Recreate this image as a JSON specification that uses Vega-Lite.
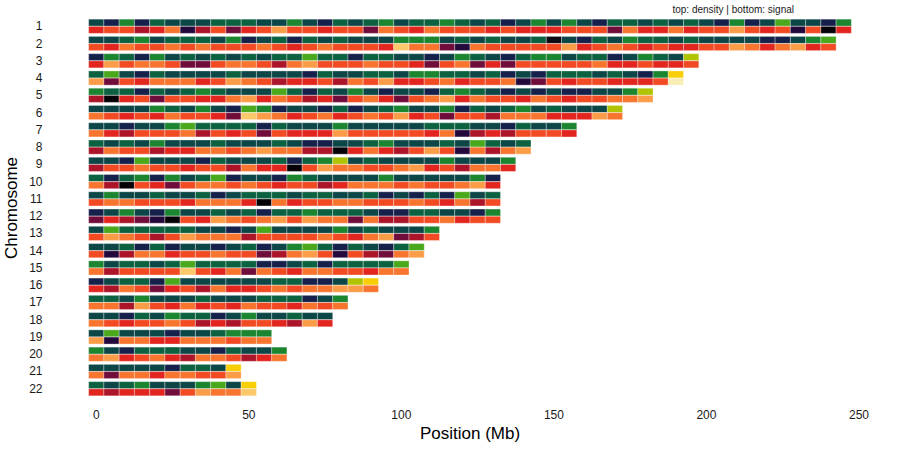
{
  "$schema": "https://vega.github.io/schema/vega-lite/v6.json",
  "width": 839,
  "height": 397,
  "autosize": "none",
  "padding": {"left": 50, "top": 9, "right": 11, "bottom": 44},
  "title": {
    "text": "top: density | bottom: signal",
    "anchor": "end",
    "frame": "group",
    "fontSize": 10,
    "fontWeight": "normal",
    "color": "#1a1a1a",
    "offset": 0,
    "dx": -95,
    "dy": 6
  },
  "data": {
    "values": [
      {"chr":1,"mb":0,"den":2,"sig":4},{"chr":1,"mb":5,"den":1,"sig":5},{"chr":1,"mb":10,"den":4,"sig":5},{"chr":1,"mb":15,"den":1,"sig":3},{"chr":1,"mb":20,"den":3,"sig":4},{"chr":1,"mb":25,"den":2,"sig":6},{"chr":1,"mb":30,"den":2,"sig":1},{"chr":1,"mb":35,"den":2,"sig":3},{"chr":1,"mb":40,"den":3,"sig":5},{"chr":1,"mb":45,"den":3,"sig":2},
      {"chr":1,"mb":50,"den":3,"sig":4},{"chr":1,"mb":55,"den":2,"sig":5},{"chr":1,"mb":60,"den":2,"sig":7},{"chr":1,"mb":65,"den":4,"sig":5},{"chr":1,"mb":70,"den":2,"sig":5},{"chr":1,"mb":75,"den":1,"sig":4},{"chr":1,"mb":80,"den":3,"sig":5},{"chr":1,"mb":85,"den":2,"sig":5},{"chr":1,"mb":90,"den":3,"sig":2},{"chr":1,"mb":95,"den":4,"sig":6},
      {"chr":1,"mb":100,"den":2,"sig":5},{"chr":1,"mb":105,"den":3,"sig":4},{"chr":1,"mb":110,"den":3,"sig":6},{"chr":1,"mb":115,"den":4,"sig":5},{"chr":1,"mb":120,"den":3,"sig":5},{"chr":1,"mb":125,"den":2,"sig":5},{"chr":1,"mb":130,"den":3,"sig":4},{"chr":1,"mb":135,"den":1,"sig":5},{"chr":1,"mb":140,"den":2,"sig":4},{"chr":1,"mb":145,"den":4,"sig":4},
      {"chr":1,"mb":150,"den":2,"sig":4},{"chr":1,"mb":155,"den":4,"sig":5},{"chr":1,"mb":160,"den":2,"sig":5},{"chr":1,"mb":165,"den":1,"sig":5},{"chr":1,"mb":170,"den":3,"sig":2},{"chr":1,"mb":175,"den":3,"sig":6},{"chr":1,"mb":180,"den":2,"sig":4},{"chr":1,"mb":185,"den":3,"sig":4},{"chr":1,"mb":190,"den":2,"sig":6},{"chr":1,"mb":195,"den":3,"sig":4},
      {"chr":1,"mb":200,"den":2,"sig":5},{"chr":1,"mb":205,"den":1,"sig":5},{"chr":1,"mb":210,"den":4,"sig":7},{"chr":1,"mb":215,"den":1,"sig":5},{"chr":1,"mb":220,"den":2,"sig":4},{"chr":1,"mb":225,"den":5,"sig":5},{"chr":1,"mb":230,"den":2,"sig":1},{"chr":1,"mb":235,"den":2,"sig":5},{"chr":1,"mb":240,"den":1,"sig":0},{"chr":1,"mb":245,"den":4,"sig":4},

      {"chr":2,"mb":0,"den":2,"sig":5},{"chr":2,"mb":5,"den":2,"sig":4},{"chr":2,"mb":10,"den":3,"sig":6},{"chr":2,"mb":15,"den":4,"sig":5},{"chr":2,"mb":20,"den":2,"sig":5},{"chr":2,"mb":25,"den":3,"sig":6},{"chr":2,"mb":30,"den":3,"sig":5},{"chr":2,"mb":35,"den":3,"sig":6},{"chr":2,"mb":40,"den":2,"sig":5},{"chr":2,"mb":45,"den":4,"sig":5},
      {"chr":2,"mb":50,"den":1,"sig":5},{"chr":2,"mb":55,"den":2,"sig":6},{"chr":2,"mb":60,"den":3,"sig":5},{"chr":2,"mb":65,"den":1,"sig":4},{"chr":2,"mb":70,"den":3,"sig":5},{"chr":2,"mb":75,"den":2,"sig":6},{"chr":2,"mb":80,"den":3,"sig":5},{"chr":2,"mb":85,"den":2,"sig":5},{"chr":2,"mb":90,"den":2,"sig":5},{"chr":2,"mb":95,"den":2,"sig":4},
      {"chr":2,"mb":100,"den":4,"sig":8},{"chr":2,"mb":105,"den":4,"sig":6},{"chr":2,"mb":110,"den":4,"sig":6},{"chr":2,"mb":115,"den":2,"sig":2},{"chr":2,"mb":120,"den":3,"sig":1},{"chr":2,"mb":125,"den":2,"sig":6},{"chr":2,"mb":130,"den":3,"sig":5},{"chr":2,"mb":135,"den":2,"sig":5},{"chr":2,"mb":140,"den":2,"sig":5},{"chr":2,"mb":145,"den":3,"sig":5},
      {"chr":2,"mb":150,"den":0,"sig":5},{"chr":2,"mb":155,"den":2,"sig":7},{"chr":2,"mb":160,"den":1,"sig":4},{"chr":2,"mb":165,"den":3,"sig":5},{"chr":2,"mb":170,"den":2,"sig":6},{"chr":2,"mb":175,"den":4,"sig":5},{"chr":2,"mb":180,"den":3,"sig":4},{"chr":2,"mb":185,"den":3,"sig":5},{"chr":2,"mb":190,"den":2,"sig":4},{"chr":2,"mb":195,"den":3,"sig":4},
      {"chr":2,"mb":200,"den":2,"sig":5},{"chr":2,"mb":205,"den":2,"sig":5},{"chr":2,"mb":210,"den":2,"sig":7},{"chr":2,"mb":215,"den":2,"sig":6},{"chr":2,"mb":220,"den":1,"sig":4},{"chr":2,"mb":225,"den":1,"sig":6},{"chr":2,"mb":230,"den":2,"sig":7},{"chr":2,"mb":235,"den":4,"sig":4},{"chr":2,"mb":240,"den":5,"sig":5},

      {"chr":3,"mb":0,"den":1,"sig":4},{"chr":3,"mb":5,"den":4,"sig":7},{"chr":3,"mb":10,"den":3,"sig":5},{"chr":3,"mb":15,"den":1,"sig":6},{"chr":3,"mb":20,"den":4,"sig":6},{"chr":3,"mb":25,"den":2,"sig":5},{"chr":3,"mb":30,"den":3,"sig":2},{"chr":3,"mb":35,"den":2,"sig":2},{"chr":3,"mb":40,"den":3,"sig":5},{"chr":3,"mb":45,"den":2,"sig":6},
      {"chr":3,"mb":50,"den":3,"sig":6},{"chr":3,"mb":55,"den":2,"sig":5},{"chr":3,"mb":60,"den":3,"sig":3},{"chr":3,"mb":65,"den":3,"sig":6},{"chr":3,"mb":70,"den":5,"sig":7},{"chr":3,"mb":75,"den":3,"sig":5},{"chr":3,"mb":80,"den":3,"sig":5},{"chr":3,"mb":85,"den":1,"sig":5},{"chr":3,"mb":90,"den":3,"sig":6},{"chr":3,"mb":95,"den":3,"sig":5},
      {"chr":3,"mb":100,"den":2,"sig":5},{"chr":3,"mb":105,"den":2,"sig":4},{"chr":3,"mb":110,"den":1,"sig":2},{"chr":3,"mb":115,"den":2,"sig":5},{"chr":3,"mb":120,"den":4,"sig":6},{"chr":3,"mb":125,"den":3,"sig":2},{"chr":3,"mb":130,"den":2,"sig":4},{"chr":3,"mb":135,"den":1,"sig":2},{"chr":3,"mb":140,"den":3,"sig":5},{"chr":3,"mb":145,"den":4,"sig":5},
      {"chr":3,"mb":150,"den":4,"sig":5},{"chr":3,"mb":155,"den":2,"sig":5},{"chr":3,"mb":160,"den":3,"sig":5},{"chr":3,"mb":165,"den":3,"sig":6},{"chr":3,"mb":170,"den":1,"sig":4},{"chr":3,"mb":175,"den":2,"sig":4},{"chr":3,"mb":180,"den":4,"sig":5},{"chr":3,"mb":185,"den":3,"sig":4},{"chr":3,"mb":190,"den":2,"sig":4},{"chr":3,"mb":195,"den":6,"sig":5},

      {"chr":4,"mb":0,"den":3,"sig":7},{"chr":4,"mb":5,"den":5,"sig":2},{"chr":4,"mb":10,"den":2,"sig":5},{"chr":4,"mb":15,"den":1,"sig":4},{"chr":4,"mb":20,"den":3,"sig":6},{"chr":4,"mb":25,"den":2,"sig":6},{"chr":4,"mb":30,"den":2,"sig":6},{"chr":4,"mb":35,"den":2,"sig":4},{"chr":4,"mb":40,"den":2,"sig":5},{"chr":4,"mb":45,"den":3,"sig":7},
      {"chr":4,"mb":50,"den":2,"sig":6},{"chr":4,"mb":55,"den":2,"sig":5},{"chr":4,"mb":60,"den":2,"sig":3},{"chr":4,"mb":65,"den":2,"sig":4},{"chr":4,"mb":70,"den":1,"sig":4},{"chr":4,"mb":75,"den":3,"sig":5},{"chr":4,"mb":80,"den":2,"sig":3},{"chr":4,"mb":85,"den":2,"sig":6},{"chr":4,"mb":90,"den":3,"sig":5},{"chr":4,"mb":95,"den":3,"sig":7},
      {"chr":4,"mb":100,"den":2,"sig":4},{"chr":4,"mb":105,"den":4,"sig":4},{"chr":4,"mb":110,"den":4,"sig":5},{"chr":4,"mb":115,"den":3,"sig":6},{"chr":4,"mb":120,"den":3,"sig":4},{"chr":4,"mb":125,"den":2,"sig":5},{"chr":4,"mb":130,"den":3,"sig":5},{"chr":4,"mb":135,"den":1,"sig":6},{"chr":4,"mb":140,"den":2,"sig":1},{"chr":4,"mb":145,"den":1,"sig":2},
      {"chr":4,"mb":150,"den":3,"sig":5},{"chr":4,"mb":155,"den":3,"sig":4},{"chr":4,"mb":160,"den":3,"sig":5},{"chr":4,"mb":165,"den":2,"sig":5},{"chr":4,"mb":170,"den":3,"sig":4},{"chr":4,"mb":175,"den":2,"sig":4},{"chr":4,"mb":180,"den":1,"sig":4},{"chr":4,"mb":185,"den":4,"sig":5},{"chr":4,"mb":190,"den":7,"sig":9},

      {"chr":5,"mb":0,"den":4,"sig":3},{"chr":5,"mb":5,"den":3,"sig":0},{"chr":5,"mb":10,"den":3,"sig":4},{"chr":5,"mb":15,"den":1,"sig":5},{"chr":5,"mb":20,"den":3,"sig":2},{"chr":5,"mb":25,"den":2,"sig":5},{"chr":5,"mb":30,"den":3,"sig":5},{"chr":5,"mb":35,"den":4,"sig":4},{"chr":5,"mb":40,"den":3,"sig":4},{"chr":5,"mb":45,"den":2,"sig":6},
      {"chr":5,"mb":50,"den":2,"sig":7},{"chr":5,"mb":55,"den":2,"sig":4},{"chr":5,"mb":60,"den":5,"sig":6},{"chr":5,"mb":65,"den":3,"sig":5},{"chr":5,"mb":70,"den":1,"sig":3},{"chr":5,"mb":75,"den":3,"sig":4},{"chr":5,"mb":80,"den":2,"sig":2},{"chr":5,"mb":85,"den":4,"sig":5},{"chr":5,"mb":90,"den":2,"sig":6},{"chr":5,"mb":95,"den":1,"sig":4},
      {"chr":5,"mb":100,"den":2,"sig":2},{"chr":5,"mb":105,"den":2,"sig":5},{"chr":5,"mb":110,"den":1,"sig":6},{"chr":5,"mb":115,"den":3,"sig":7},{"chr":5,"mb":120,"den":4,"sig":4},{"chr":5,"mb":125,"den":3,"sig":6},{"chr":5,"mb":130,"den":2,"sig":5},{"chr":5,"mb":135,"den":1,"sig":5},{"chr":5,"mb":140,"den":2,"sig":4},{"chr":5,"mb":145,"den":1,"sig":6},
      {"chr":5,"mb":150,"den":2,"sig":5},{"chr":5,"mb":155,"den":1,"sig":4},{"chr":5,"mb":160,"den":1,"sig":5},{"chr":5,"mb":165,"den":2,"sig":5},{"chr":5,"mb":170,"den":2,"sig":6},{"chr":5,"mb":175,"den":4,"sig":6},{"chr":5,"mb":180,"den":6,"sig":7},

      {"chr":6,"mb":0,"den":2,"sig":6},{"chr":6,"mb":5,"den":2,"sig":5},{"chr":6,"mb":10,"den":2,"sig":4},{"chr":6,"mb":15,"den":2,"sig":5},{"chr":6,"mb":20,"den":4,"sig":4},{"chr":6,"mb":25,"den":3,"sig":6},{"chr":6,"mb":30,"den":2,"sig":5},{"chr":6,"mb":35,"den":4,"sig":5},{"chr":6,"mb":40,"den":2,"sig":4},{"chr":6,"mb":45,"den":1,"sig":2},
      {"chr":6,"mb":50,"den":5,"sig":8},{"chr":6,"mb":55,"den":4,"sig":7},{"chr":6,"mb":60,"den":1,"sig":6},{"chr":6,"mb":65,"den":2,"sig":4},{"chr":6,"mb":70,"den":2,"sig":5},{"chr":6,"mb":75,"den":1,"sig":6},{"chr":6,"mb":80,"den":3,"sig":4},{"chr":6,"mb":85,"den":1,"sig":5},{"chr":6,"mb":90,"den":2,"sig":6},{"chr":6,"mb":95,"den":3,"sig":5},
      {"chr":6,"mb":100,"den":4,"sig":7},{"chr":6,"mb":105,"den":2,"sig":4},{"chr":6,"mb":110,"den":2,"sig":5},{"chr":6,"mb":115,"den":4,"sig":2},{"chr":6,"mb":120,"den":1,"sig":5},{"chr":6,"mb":125,"den":3,"sig":5},{"chr":6,"mb":130,"den":2,"sig":3},{"chr":6,"mb":135,"den":3,"sig":6},{"chr":6,"mb":140,"den":4,"sig":6},{"chr":6,"mb":145,"den":2,"sig":6},
      {"chr":6,"mb":150,"den":3,"sig":4},{"chr":6,"mb":155,"den":2,"sig":4},{"chr":6,"mb":160,"den":2,"sig":4},{"chr":6,"mb":165,"den":2,"sig":7},{"chr":6,"mb":170,"den":6,"sig":6},

      {"chr":7,"mb":0,"den":2,"sig":6},{"chr":7,"mb":5,"den":2,"sig":4},{"chr":7,"mb":10,"den":1,"sig":3},{"chr":7,"mb":15,"den":2,"sig":5},{"chr":7,"mb":20,"den":2,"sig":5},{"chr":7,"mb":25,"den":4,"sig":5},{"chr":7,"mb":30,"den":5,"sig":6},{"chr":7,"mb":35,"den":3,"sig":3},{"chr":7,"mb":40,"den":3,"sig":5},{"chr":7,"mb":45,"den":3,"sig":4},
      {"chr":7,"mb":50,"den":3,"sig":5},{"chr":7,"mb":55,"den":1,"sig":2},{"chr":7,"mb":60,"den":3,"sig":5},{"chr":7,"mb":65,"den":2,"sig":4},{"chr":7,"mb":70,"den":2,"sig":4},{"chr":7,"mb":75,"den":2,"sig":4},{"chr":7,"mb":80,"den":4,"sig":7},{"chr":7,"mb":85,"den":2,"sig":5},{"chr":7,"mb":90,"den":2,"sig":5},{"chr":7,"mb":95,"den":2,"sig":5},
      {"chr":7,"mb":100,"den":2,"sig":5},{"chr":7,"mb":105,"den":2,"sig":5},{"chr":7,"mb":110,"den":3,"sig":4},{"chr":7,"mb":115,"den":3,"sig":6},{"chr":7,"mb":120,"den":3,"sig":1},{"chr":7,"mb":125,"den":2,"sig":3},{"chr":7,"mb":130,"den":2,"sig":4},{"chr":7,"mb":135,"den":1,"sig":3},{"chr":7,"mb":140,"den":3,"sig":5},{"chr":7,"mb":145,"den":2,"sig":5},
      {"chr":7,"mb":150,"den":2,"sig":5},{"chr":7,"mb":155,"den":4,"sig":4},

      {"chr":8,"mb":0,"den":3,"sig":3},{"chr":8,"mb":5,"den":2,"sig":6},{"chr":8,"mb":10,"den":3,"sig":5},{"chr":8,"mb":15,"den":2,"sig":5},{"chr":8,"mb":20,"den":4,"sig":3},{"chr":8,"mb":25,"den":2,"sig":4},{"chr":8,"mb":30,"den":2,"sig":4},{"chr":8,"mb":35,"den":2,"sig":6},{"chr":8,"mb":40,"den":3,"sig":6},{"chr":8,"mb":45,"den":2,"sig":5},
      {"chr":8,"mb":50,"den":2,"sig":6},{"chr":8,"mb":55,"den":2,"sig":7},{"chr":8,"mb":60,"den":3,"sig":6},{"chr":8,"mb":65,"den":2,"sig":6},{"chr":8,"mb":70,"den":1,"sig":3},{"chr":8,"mb":75,"den":1,"sig":3},{"chr":8,"mb":80,"den":2,"sig":0},{"chr":8,"mb":85,"den":2,"sig":4},{"chr":8,"mb":90,"den":3,"sig":6},{"chr":8,"mb":95,"den":4,"sig":4},
      {"chr":8,"mb":100,"den":2,"sig":3},{"chr":8,"mb":105,"den":2,"sig":5},{"chr":8,"mb":110,"den":2,"sig":7},{"chr":8,"mb":115,"den":3,"sig":5},{"chr":8,"mb":120,"den":2,"sig":1},{"chr":8,"mb":125,"den":5,"sig":6},{"chr":8,"mb":130,"den":3,"sig":3},{"chr":8,"mb":135,"den":2,"sig":6},{"chr":8,"mb":140,"den":3,"sig":7},

      {"chr":9,"mb":0,"den":2,"sig":3},{"chr":9,"mb":5,"den":2,"sig":5},{"chr":9,"mb":10,"den":1,"sig":5},{"chr":9,"mb":15,"den":5,"sig":6},{"chr":9,"mb":20,"den":2,"sig":5},{"chr":9,"mb":25,"den":2,"sig":5},{"chr":9,"mb":30,"den":2,"sig":4},{"chr":9,"mb":35,"den":1,"sig":5},{"chr":9,"mb":40,"den":3,"sig":5},{"chr":9,"mb":45,"den":2,"sig":3},
      {"chr":9,"mb":50,"den":2,"sig":6},{"chr":9,"mb":55,"den":2,"sig":4},{"chr":9,"mb":60,"den":3,"sig":4},{"chr":9,"mb":65,"den":1,"sig":0},{"chr":9,"mb":70,"den":3,"sig":5},{"chr":9,"mb":75,"den":4,"sig":7},{"chr":9,"mb":80,"den":6,"sig":6},{"chr":9,"mb":85,"den":2,"sig":6},{"chr":9,"mb":90,"den":3,"sig":5},{"chr":9,"mb":95,"den":2,"sig":5},
      {"chr":9,"mb":100,"den":2,"sig":6},{"chr":9,"mb":105,"den":2,"sig":7},{"chr":9,"mb":110,"den":2,"sig":4},{"chr":9,"mb":115,"den":4,"sig":5},{"chr":9,"mb":120,"den":2,"sig":3},{"chr":9,"mb":125,"den":2,"sig":6},{"chr":9,"mb":130,"den":2,"sig":6},{"chr":9,"mb":135,"den":4,"sig":4},

      {"chr":10,"mb":0,"den":3,"sig":6},{"chr":10,"mb":5,"den":1,"sig":3},{"chr":10,"mb":10,"den":3,"sig":0},{"chr":10,"mb":15,"den":4,"sig":5},{"chr":10,"mb":20,"den":1,"sig":4},{"chr":10,"mb":25,"den":4,"sig":2},{"chr":10,"mb":30,"den":2,"sig":5},{"chr":10,"mb":35,"den":3,"sig":6},{"chr":10,"mb":40,"den":5,"sig":6},{"chr":10,"mb":45,"den":1,"sig":5},
      {"chr":10,"mb":50,"den":2,"sig":6},{"chr":10,"mb":55,"den":2,"sig":5},{"chr":10,"mb":60,"den":1,"sig":4},{"chr":10,"mb":65,"den":4,"sig":5},{"chr":10,"mb":70,"den":3,"sig":5},{"chr":10,"mb":75,"den":2,"sig":3},{"chr":10,"mb":80,"den":2,"sig":4},{"chr":10,"mb":85,"den":2,"sig":6},{"chr":10,"mb":90,"den":2,"sig":6},{"chr":10,"mb":95,"den":4,"sig":6},
      {"chr":10,"mb":100,"den":2,"sig":5},{"chr":10,"mb":105,"den":2,"sig":6},{"chr":10,"mb":110,"den":2,"sig":5},{"chr":10,"mb":115,"den":2,"sig":5},{"chr":10,"mb":120,"den":2,"sig":6},{"chr":10,"mb":125,"den":4,"sig":7},{"chr":10,"mb":130,"den":1,"sig":4},

      {"chr":11,"mb":0,"den":2,"sig":5},{"chr":11,"mb":5,"den":4,"sig":6},{"chr":11,"mb":10,"den":2,"sig":6},{"chr":11,"mb":15,"den":2,"sig":5},{"chr":11,"mb":20,"den":3,"sig":5},{"chr":11,"mb":25,"den":2,"sig":5},{"chr":11,"mb":30,"den":2,"sig":4},{"chr":11,"mb":35,"den":3,"sig":6},{"chr":11,"mb":40,"den":1,"sig":6},{"chr":11,"mb":45,"den":2,"sig":6},
      {"chr":11,"mb":50,"den":3,"sig":4},{"chr":11,"mb":55,"den":3,"sig":0},{"chr":11,"mb":60,"den":3,"sig":6},{"chr":11,"mb":65,"den":2,"sig":4},{"chr":11,"mb":70,"den":3,"sig":5},{"chr":11,"mb":75,"den":3,"sig":5},{"chr":11,"mb":80,"den":2,"sig":6},{"chr":11,"mb":85,"den":2,"sig":6},{"chr":11,"mb":90,"den":3,"sig":5},{"chr":11,"mb":95,"den":1,"sig":5},
      {"chr":11,"mb":100,"den":2,"sig":5},{"chr":11,"mb":105,"den":1,"sig":6},{"chr":11,"mb":110,"den":3,"sig":5},{"chr":11,"mb":115,"den":1,"sig":4},{"chr":11,"mb":120,"den":5,"sig":6},{"chr":11,"mb":125,"den":2,"sig":3},{"chr":11,"mb":130,"den":3,"sig":5},

      {"chr":12,"mb":0,"den":1,"sig":2},{"chr":12,"mb":5,"den":2,"sig":4},{"chr":12,"mb":10,"den":4,"sig":3},{"chr":12,"mb":15,"den":2,"sig":2},{"chr":12,"mb":20,"den":1,"sig":1},{"chr":12,"mb":25,"den":4,"sig":0},{"chr":12,"mb":30,"den":2,"sig":5},{"chr":12,"mb":35,"den":2,"sig":4},{"chr":12,"mb":40,"den":3,"sig":7},{"chr":12,"mb":45,"den":2,"sig":6},
      {"chr":12,"mb":50,"den":3,"sig":5},{"chr":12,"mb":55,"den":1,"sig":6},{"chr":12,"mb":60,"den":3,"sig":7},{"chr":12,"mb":65,"den":3,"sig":5},{"chr":12,"mb":70,"den":4,"sig":7},{"chr":12,"mb":75,"den":3,"sig":6},{"chr":12,"mb":80,"den":3,"sig":6},{"chr":12,"mb":85,"den":3,"sig":2},{"chr":12,"mb":90,"den":2,"sig":6},{"chr":12,"mb":95,"den":1,"sig":3},
      {"chr":12,"mb":100,"den":1,"sig":3},{"chr":12,"mb":105,"den":3,"sig":5},{"chr":12,"mb":110,"den":3,"sig":5},{"chr":12,"mb":115,"den":2,"sig":6},{"chr":12,"mb":120,"den":2,"sig":4},{"chr":12,"mb":125,"den":1,"sig":5},{"chr":12,"mb":130,"den":4,"sig":5},

      {"chr":13,"mb":0,"den":2,"sig":5},{"chr":13,"mb":5,"den":5,"sig":7},{"chr":13,"mb":10,"den":3,"sig":6},{"chr":13,"mb":15,"den":3,"sig":5},{"chr":13,"mb":20,"den":3,"sig":3},{"chr":13,"mb":25,"den":3,"sig":5},{"chr":13,"mb":30,"den":3,"sig":7},{"chr":13,"mb":35,"den":2,"sig":6},{"chr":13,"mb":40,"den":2,"sig":6},{"chr":13,"mb":45,"den":1,"sig":6},
      {"chr":13,"mb":50,"den":2,"sig":3},{"chr":13,"mb":55,"den":5,"sig":5},{"chr":13,"mb":60,"den":2,"sig":5},{"chr":13,"mb":65,"den":2,"sig":5},{"chr":13,"mb":70,"den":2,"sig":5},{"chr":13,"mb":75,"den":2,"sig":6},{"chr":13,"mb":80,"den":4,"sig":5},{"chr":13,"mb":85,"den":2,"sig":4},{"chr":13,"mb":90,"den":3,"sig":6},{"chr":13,"mb":95,"den":2,"sig":7},
      {"chr":13,"mb":100,"den":2,"sig":2},{"chr":13,"mb":105,"den":2,"sig":3},{"chr":13,"mb":110,"den":4,"sig":5},

      {"chr":14,"mb":0,"den":2,"sig":5},{"chr":14,"mb":5,"den":2,"sig":1},{"chr":14,"mb":10,"den":3,"sig":3},{"chr":14,"mb":15,"den":1,"sig":6},{"chr":14,"mb":20,"den":3,"sig":6},{"chr":14,"mb":25,"den":1,"sig":4},{"chr":14,"mb":30,"den":2,"sig":5},{"chr":14,"mb":35,"den":2,"sig":5},{"chr":14,"mb":40,"den":1,"sig":6},{"chr":14,"mb":45,"den":2,"sig":5},
      {"chr":14,"mb":50,"den":3,"sig":5},{"chr":14,"mb":55,"den":1,"sig":2},{"chr":14,"mb":60,"den":2,"sig":3},{"chr":14,"mb":65,"den":4,"sig":6},{"chr":14,"mb":70,"den":5,"sig":7},{"chr":14,"mb":75,"den":3,"sig":5},{"chr":14,"mb":80,"den":1,"sig":1},{"chr":14,"mb":85,"den":3,"sig":5},{"chr":14,"mb":90,"den":2,"sig":3},{"chr":14,"mb":95,"den":1,"sig":2},
      {"chr":14,"mb":100,"den":3,"sig":6},{"chr":14,"mb":105,"den":5,"sig":7},

      {"chr":15,"mb":0,"den":4,"sig":6},{"chr":15,"mb":5,"den":2,"sig":3},{"chr":15,"mb":10,"den":3,"sig":5},{"chr":15,"mb":15,"den":3,"sig":5},{"chr":15,"mb":20,"den":2,"sig":5},{"chr":15,"mb":25,"den":3,"sig":5},{"chr":15,"mb":30,"den":5,"sig":8},{"chr":15,"mb":35,"den":3,"sig":5},{"chr":15,"mb":40,"den":3,"sig":4},{"chr":15,"mb":45,"den":3,"sig":6},
      {"chr":15,"mb":50,"den":3,"sig":2},{"chr":15,"mb":55,"den":1,"sig":6},{"chr":15,"mb":60,"den":1,"sig":5},{"chr":15,"mb":65,"den":2,"sig":4},{"chr":15,"mb":70,"den":3,"sig":6},{"chr":15,"mb":75,"den":1,"sig":6},{"chr":15,"mb":80,"den":3,"sig":5},{"chr":15,"mb":85,"den":3,"sig":5},{"chr":15,"mb":90,"den":3,"sig":4},{"chr":15,"mb":95,"den":3,"sig":6},
      {"chr":15,"mb":100,"den":5,"sig":6},

      {"chr":16,"mb":0,"den":1,"sig":4},{"chr":16,"mb":5,"den":2,"sig":3},{"chr":16,"mb":10,"den":3,"sig":6},{"chr":16,"mb":15,"den":3,"sig":5},{"chr":16,"mb":20,"den":1,"sig":2},{"chr":16,"mb":25,"den":5,"sig":4},{"chr":16,"mb":30,"den":2,"sig":5},{"chr":16,"mb":35,"den":2,"sig":3},{"chr":16,"mb":40,"den":2,"sig":6},{"chr":16,"mb":45,"den":2,"sig":4},
      {"chr":16,"mb":50,"den":2,"sig":4},{"chr":16,"mb":55,"den":2,"sig":5},{"chr":16,"mb":60,"den":3,"sig":6},{"chr":16,"mb":65,"den":3,"sig":5},{"chr":16,"mb":70,"den":1,"sig":6},{"chr":16,"mb":75,"den":1,"sig":6},{"chr":16,"mb":80,"den":2,"sig":7},{"chr":16,"mb":85,"den":6,"sig":7},{"chr":16,"mb":90,"den":7,"sig":6},

      {"chr":17,"mb":0,"den":3,"sig":6},{"chr":17,"mb":5,"den":3,"sig":6},{"chr":17,"mb":10,"den":2,"sig":3},{"chr":17,"mb":15,"den":4,"sig":7},{"chr":17,"mb":20,"den":2,"sig":5},{"chr":17,"mb":25,"den":2,"sig":4},{"chr":17,"mb":30,"den":2,"sig":6},{"chr":17,"mb":35,"den":3,"sig":4},{"chr":17,"mb":40,"den":2,"sig":5},{"chr":17,"mb":45,"den":2,"sig":4},
      {"chr":17,"mb":50,"den":2,"sig":6},{"chr":17,"mb":55,"den":3,"sig":5},{"chr":17,"mb":60,"den":3,"sig":5},{"chr":17,"mb":65,"den":3,"sig":4},{"chr":17,"mb":70,"den":1,"sig":6},{"chr":17,"mb":75,"den":2,"sig":5},{"chr":17,"mb":80,"den":4,"sig":6},

      {"chr":18,"mb":0,"den":2,"sig":6},{"chr":18,"mb":5,"den":2,"sig":5},{"chr":18,"mb":10,"den":1,"sig":4},{"chr":18,"mb":15,"den":3,"sig":5},{"chr":18,"mb":20,"den":2,"sig":5},{"chr":18,"mb":25,"den":4,"sig":6},{"chr":18,"mb":30,"den":3,"sig":5},{"chr":18,"mb":35,"den":3,"sig":3},{"chr":18,"mb":40,"den":1,"sig":4},{"chr":18,"mb":45,"den":2,"sig":3},
      {"chr":18,"mb":50,"den":4,"sig":5},{"chr":18,"mb":55,"den":2,"sig":5},{"chr":18,"mb":60,"den":2,"sig":4},{"chr":18,"mb":65,"den":3,"sig":3},{"chr":18,"mb":70,"den":2,"sig":7},{"chr":18,"mb":75,"den":2,"sig":4},

      {"chr":19,"mb":0,"den":2,"sig":7},{"chr":19,"mb":5,"den":5,"sig":1},{"chr":19,"mb":10,"den":2,"sig":6},{"chr":19,"mb":15,"den":2,"sig":6},{"chr":19,"mb":20,"den":2,"sig":4},{"chr":19,"mb":25,"den":1,"sig":4},{"chr":19,"mb":30,"den":2,"sig":6},{"chr":19,"mb":35,"den":2,"sig":6},{"chr":19,"mb":40,"den":3,"sig":6},{"chr":19,"mb":45,"den":4,"sig":5},
      {"chr":19,"mb":50,"den":4,"sig":6},{"chr":19,"mb":55,"den":4,"sig":6},

      {"chr":20,"mb":0,"den":4,"sig":6},{"chr":20,"mb":5,"den":2,"sig":7},{"chr":20,"mb":10,"den":1,"sig":4},{"chr":20,"mb":15,"den":3,"sig":5},{"chr":20,"mb":20,"den":3,"sig":6},{"chr":20,"mb":25,"den":3,"sig":4},{"chr":20,"mb":30,"den":2,"sig":3},{"chr":20,"mb":35,"den":2,"sig":6},{"chr":20,"mb":40,"den":1,"sig":6},{"chr":20,"mb":45,"den":3,"sig":5},
      {"chr":20,"mb":50,"den":2,"sig":3},{"chr":20,"mb":55,"den":2,"sig":4},{"chr":20,"mb":60,"den":4,"sig":6},

      {"chr":21,"mb":0,"den":2,"sig":6},{"chr":21,"mb":5,"den":2,"sig":2},{"chr":21,"mb":10,"den":2,"sig":6},{"chr":21,"mb":15,"den":2,"sig":6},{"chr":21,"mb":20,"den":2,"sig":4},{"chr":21,"mb":25,"den":1,"sig":6},{"chr":21,"mb":30,"den":3,"sig":6},{"chr":21,"mb":35,"den":3,"sig":5},{"chr":21,"mb":40,"den":2,"sig":5},{"chr":21,"mb":45,"den":7,"sig":7},

      {"chr":22,"mb":0,"den":3,"sig":4},{"chr":22,"mb":5,"den":2,"sig":3},{"chr":22,"mb":10,"den":3,"sig":4},{"chr":22,"mb":15,"den":4,"sig":4},{"chr":22,"mb":20,"den":2,"sig":4},{"chr":22,"mb":25,"den":2,"sig":2},{"chr":22,"mb":30,"den":2,"sig":5},{"chr":22,"mb":35,"den":4,"sig":7},{"chr":22,"mb":40,"den":5,"sig":6},{"chr":22,"mb":45,"den":2,"sig":6},
      {"chr":22,"mb":50,"den":7,"sig":8}
    ]
  },
  "encoding": {
    "x": {
      "field": "mb",
      "type": "quantitative",
      "bin": {"binned": true, "step": 5},
      "scale": {"domain": [-15, 260], "nice": false, "zero": false},
      "axis": {
        "values": [0, 50, 100, 150, 200, 250],
        "format": "d",
        "title": "Position (Mb)",
        "grid": false,
        "ticks": false,
        "domain": false,
        "labelPadding": 3,
        "labelFontSize": 12,
        "labelColor": "#1a1a1a",
        "titleFontSize": 17,
        "titleFontWeight": "normal",
        "titleColor": "#000000",
        "titlePadding": 5
      }
    },
    "y": {
      "field": "chr",
      "type": "ordinal",
      "scale": {"paddingInner": 0, "paddingOuter": 0.5},
      "axis": {
        "title": "Chromosome",
        "grid": false,
        "ticks": false,
        "domain": false,
        "labelPadding": 8,
        "labelFontSize": 12,
        "labelColor": "#1a1a1a",
        "titleFontSize": 17,
        "titleFontWeight": "normal",
        "titleColor": "#000000",
        "titlePadding": 8
      }
    }
  },
  "layer": [
    {
      "mark": {
        "type": "rect",
        "binSpacing": 0,
        "height": 7,
        "yOffset": -3.6,
        "y2Offset": -3.6,
        "xOffset": -7.63,
        "x2Offset": -7.63,
        "stroke": "white",
        "strokeWidth": 0.4,
        "strokeOpacity": 0.8
      },
      "encoding": {
        "color": {
          "field": "den",
          "type": "quantitative",
          "scale": {
            "domain": [0, 1, 2, 3, 4, 5, 6, 7],
            "range": ["#0d0a14", "#15204b", "#0c4646", "#0b6140", "#1b8530", "#4aa81c", "#b0c404", "#f8cf07"]
          },
          "legend": null
        }
      }
    },
    {
      "mark": {
        "type": "rect",
        "binSpacing": 0,
        "height": 7,
        "yOffset": 3.6,
        "y2Offset": 3.6,
        "xOffset": -7.63,
        "x2Offset": -7.63,
        "stroke": "white",
        "strokeWidth": 0.4,
        "strokeOpacity": 0.8
      },
      "encoding": {
        "color": {
          "field": "sig",
          "type": "quantitative",
          "scale": {
            "domain": [0, 1, 2, 3, 4, 5, 6, 7, 8, 9],
            "range": ["#060308", "#240a3c", "#700d3a", "#ab1429", "#e2261f", "#f24a23", "#f7752e", "#fb9d48", "#fbc86b", "#f8eeb4"]
          },
          "legend": null
        }
      }
    }
  ],
  "resolve": {"scale": {"color": "independent"}},
  "config": {
    "view": {"stroke": null},
    "font": "Liberation Sans"
  }
}
